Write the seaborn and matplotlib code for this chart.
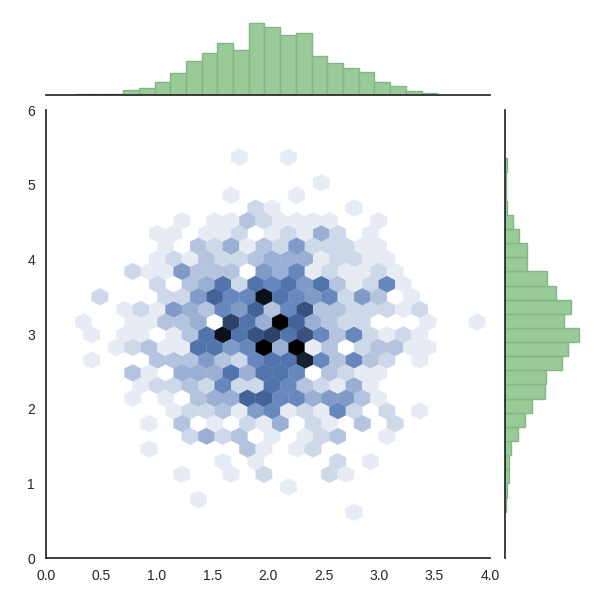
import numpy as np
import matplotlib
matplotlib.use("Agg")
import matplotlib.pyplot as plt
import seaborn as sns

sns.set_style("white")
plt.rcParams['font.family'] = ['Liberation Sans', 'DejaVu Sans']

# hex counts, one list per hex row from the top
row_start = [0, 0, 5, 0, 1, -3, -5, -4, -5, -6, -5, -8, -7, -9, -9,
             -7, -9, -6, -6, -6, -4, -5, -3, -5, -1, -3, 3, -2, 7]
row_counts = [
    [1, 0, 0, 1],
    [],
    [1],
    [1, 0, 0, 0, 1],
    [2, 1, 0, 0, 0, 0, 1],
    [1, 0, 1, 1, 3, 2, 1, 1, 1, 1, 0, 0, 1],
    [1, 1, 0, 1, 1, 2, 0, 1, 2, 1, 4, 2, 0, 1],
    [1, 0, 3, 2, 4, 1, 3, 2, 5, 2, 2, 2, 1, 1],
    [1, 2, 1, 3, 2, 2, 3, 4, 4, 4, 1, 2, 2, 1, 1],
    [2, 1, 1, 5, 3, 3, 3, 0, 5, 4, 6, 1, 2, 1, 1, 2, 1],
    [2, 0, 3, 4, 7, 2, 7, 6, 7, 5, 7, 3, 1, 2, 6, 1],
    [2, 0, 0, 0, 2, 2, 5, 8, 6, 6, 13, 7, 6, 5, 6, 2, 5, 3, 0, 1],
    [1, 2, 1, 5, 4, 3, 6, 5, 8, 3, 6, 9, 3, 3, 2, 2, 2, 1, 2],
    [1, 0, 0, 1, 1, 3, 3, 4, 0, 10, 7, 4, 14, 8, 4, 3, 2, 2, 0, 0, 0, 1, 0, 0, 1],
    [1, 0, 1, 1, 0, 1, 3, 7, 13, 7, 9, 10, 7, 9, 6, 3, 6, 2, 1, 2, 1],
    [1, 2, 3, 1, 1, 7, 7, 5, 6, 14, 4, 14, 1, 3, 0, 2, 3, 3, 1, 1],
    [1, 0, 0, 0, 3, 3, 3, 5, 3, 2, 6, 7, 7, 12, 6, 3, 6, 3, 2, 0, 1],
    [3, 1, 0, 4, 4, 4, 7, 4, 7, 7, 6, 0, 3, 2, 1, 1],
    [1, 2, 2, 3, 2, 6, 2, 2, 7, 6, 3, 2, 1, 4, 1],
    [1, 0, 1, 0, 3, 4, 4, 8, 8, 6, 6, 4, 5, 5, 3, 1],
    [1, 2, 2, 3, 1, 5, 6, 1, 2, 1, 6, 2, 0, 2, 0, 1],
    [1, 0, 3, 0, 1, 0, 2, 1, 4, 0, 2, 1, 0, 3, 0, 2],
    [2, 4, 2, 3, 0, 1, 0, 1, 2, 3, 0, 0, 1],
    [1, 0, 0, 0, 0, 0, 3, 1, 0, 1, 2],
    [1, 0, 1, 0, 0, 0, 0, 2, 0, 1],
    [1, 0, 0, 1, 0, 2, 0, 0, 0, 2, 1],
    [1],
    [1],
    [1],
]

# marginal bars, left to right and top to bottom
top_counts = [3, 1, 1, 13, 19, 37, 64, 100, 124, 154, 133, 214, 202, 178, 184,
              115, 95, 79, 67, 37, 25, 10, 4]
right_counts = [5, 2, 4, 7, 25, 43, 67, 67, 127, 151, 196, 175, 222, 189, 170,
                123, 120, 81, 60, 39, 18, 12, 12, 6, 2]
top_range = (0.270, 3.525)
right_range = (0.620, 5.353)

x_ticks = [0.0, 0.5, 1.0, 1.5, 2.0, 2.5, 3.0, 3.5, 4.0]
y_ticks = [0, 1, 2, 3, 4, 5, 6]

dx = 0.14775
dy = 0.1698
x0 = 1.7414
y0 = 5.366

hex_x = []
hex_y = []
for r in range(len(row_counts)):
    for i, n in enumerate(row_counts[r]):
        # odd rows sit half a hex to the left
        xval = x0 + (row_start[r] + i) * dx - (r % 2) * dx / 2
        hex_x += [xval] * n
        hex_y += [y0 - r * dy] * n

g = sns.JointGrid(height=6, ratio=5, space=0.2)
g.figure.set_size_inches(6, 6)

color_rgb = matplotlib.colors.to_rgb("#4C72B0")
colors = [sns.utils.set_hls_values(color_rgb, l=val) for val in np.linspace(1, 0, 12)]
cmap = sns.blend_palette(colors, as_cmap=True)

g.ax_joint.hexbin(hex_x, hex_y, gridsize=(28, 16),
                  extent=(x0 - 12 * dx, x0 + 16 * dx, y0 - 30 * dy, y0 + 2 * dy),
                  cmap=cmap, vmin=0, vmax=14, linewidths=0.2, edgecolors='face', mincnt=1)

top_edges = np.linspace(top_range[0], top_range[1], len(top_counts) + 1)
right_edges = np.linspace(right_range[0], right_range[1], len(right_counts) + 1)
top_mid = (top_edges[:-1] + top_edges[1:]) / 2
right_mid = (right_edges[:-1] + right_edges[1:]) / 2

hist_kws = dict(color='#98CB98', alpha=1, edgecolor='#84B688', linewidth=1)
sns.histplot(x=top_mid, weights=np.array(top_counts), bins=len(top_counts), binrange=top_range,
             ax=g.ax_marg_x, **hist_kws)
sns.histplot(y=right_mid, weights=np.array(right_counts[::-1]), bins=len(right_counts),
             binrange=right_range, ax=g.ax_marg_y, **hist_kws)

g.ax_joint.set_xlim(0, 4)
g.ax_joint.set_ylim(0, 6)
g.ax_joint.set_xticks(x_ticks)
g.ax_joint.set_yticks(y_ticks)
g.ax_joint.set_xlabel('')
g.ax_joint.set_ylabel('')
g.ax_joint.tick_params(labelsize=10, colors='#262626', length=0)
g.ax_joint.tick_params(axis='x', pad=8)
g.ax_joint.tick_params(axis='y', pad=8)
g.ax_marg_x.set_ylim(0, 269)
g.ax_marg_y.set_xlim(0, 266)
g.ax_marg_x.set_ylabel('')
g.ax_marg_y.set_xlabel('')

for ax in [g.ax_joint, g.ax_marg_x, g.ax_marg_y]:
    for s in ax.spines.values():
        s.set_linewidth(1.25)
        s.set_color('#262626')

g.ax_joint.set_position([46 / 600, 42 / 600, 444 / 600, 448 / 600])
g.ax_marg_x.set_position([46 / 600, 505.5 / 600, 444 / 600, 89.6 / 600])
g.ax_marg_y.set_position([505 / 600, 42 / 600, 89 / 600, 448 / 600])

g.figure.savefig('out.png', dpi=100)
